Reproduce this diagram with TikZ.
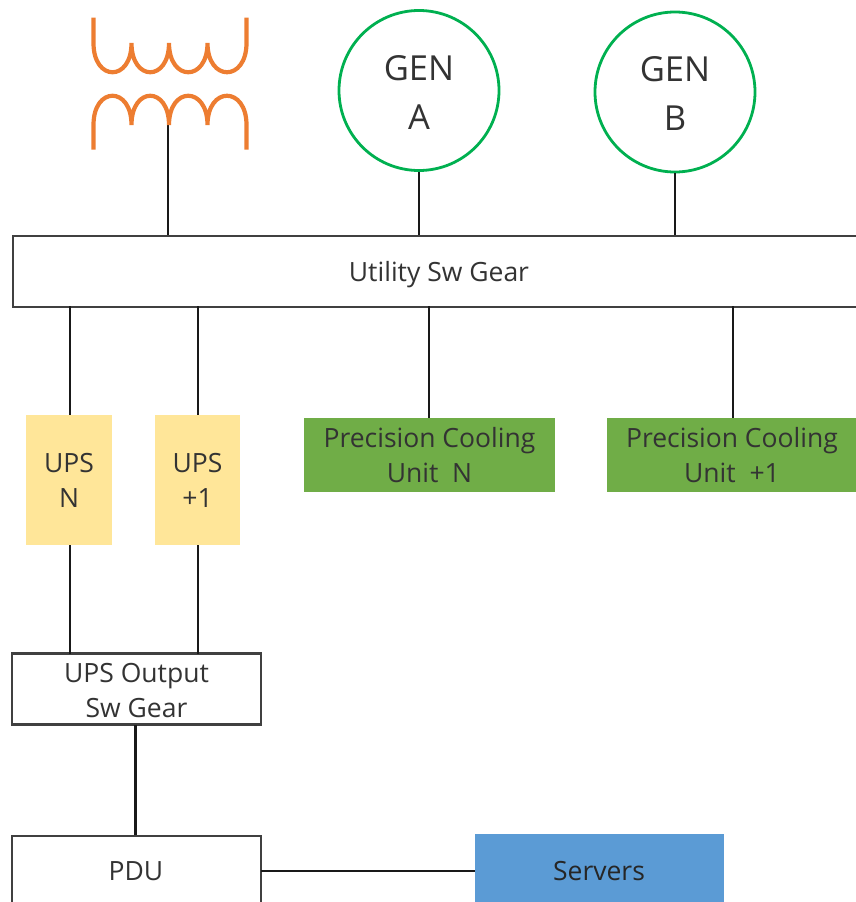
\documentclass[tikz,border=0pt]{standalone}
\usepackage{fontspec}
\setmainfont{Open Sans}
\newcommand\lowered[2]{\raisebox{-#1pt}[0pt][0pt]{\begin{tabular}{@{}c@{}}#2\end{tabular}}}
\begin{document}
\begin{tikzpicture}[x=1pt,y=-1pt,
 wire/.style={line width=2.9pt,color=black!90},
 coil/.style={line width=4.2pt,color=orangeC},
 gen/.style={circle,draw=genC,line width=2.8pt,minimum size=160pt,inner sep=0pt,align=center,text=textC,font=\fontsize{34.5}{49}\selectfont},
 swbox/.style={draw=black!75,line width=2.2pt,fill=white,text=textC,align=center,font=\fontsize{26.5}{35}\selectfont,inner sep=0pt},
 fillbox/.style={inner sep=0pt,align=center,text=textC,font=\fontsize{26.5}{35}\selectfont},
 lab/.style={text=textC,font=\fontsize{26.5}{30}\selectfont,inner sep=0pt}]
\definecolor{orangeC}{HTML}{ED7D31}
\definecolor{genC}{HTML}{00B050}
\definecolor{textC}{HTML}{333333}
\definecolor{upsC}{HTML}{FFE699}
\definecolor{greenC}{HTML}{70AD47}
\definecolor{blueC}{HTML}{5B9BD5}
\useasboundingbox (0,0) rectangle (856,902);
\clip (0,0) rectangle (856,902);
\coordinate (tap) at (168,125);
\node[gen] (genA) at (419,90.5) {\lowered{10.6}{GEN\\A}};
\node[gen] (genB) at (675,92) {\lowered{10.6}{GEN\\B}};
\node[swbox,minimum width=860pt,minimum height=71pt,anchor=north west] (usg) at (12,235) {};
\node[lab] (usgl) at (439,274.5) {Utility Sw Gear};
\node[fillbox,fill=upsC,minimum width=86pt,minimum height=130pt] (upsN) at (69,480) {\lowered{9.6}{UPS\\N}};
\node[fillbox,fill=upsC,minimum width=85pt,minimum height=130pt] (upsP) at (197.5,480) {\lowered{9.6}{UPS\\+1}};
\node[fillbox,fill=greenC,minimum width=251pt,minimum height=74pt] (pcN) at (429.5,454.5) {\lowered{9.6}{Precision Cooling\\Unit~~N}};
\node[fillbox,fill=greenC,minimum width=250pt,minimum height=74pt] (pcP) at (732,454.5) {\lowered{9.6}{Precision Cooling\\Unit~~+1}};
\node[swbox,minimum width=249pt,minimum height=71pt] (out) at (136.5,689) {\lowered{10.6}{UPS Output\\Sw Gear}};
\node[swbox,minimum width=249pt,minimum height=80pt,anchor=north] (pdu) at (136.5,835) {};
\node[lab] (pdul) at (136,871.5) {PDU};
\node[fillbox,fill=blueC,minimum width=249pt,minimum height=80pt,anchor=north] (srv) at (599.5,834) {};
\node[lab,text=black!85] (srvl) at (599,871.5) {Servers};
% wires
\draw[wire] (tap) -- (tap|-usg.north);
\draw[wire] (genA.south) -- (genA.south|-usg.north);
\draw[wire] (genB.south) -- (genB.south|-usg.north);
\draw[wire] (70,306) -- (70,415);
\draw[wire] (198,306) -- (198,415);
\draw[wire] (429,306) -- (429,418);
\draw[wire] (733,306) -- (733,418);
\draw[wire] (70,545) -- (70,654);
\draw[wire] (198,545) -- (198,654);
\draw[wire] (135.5,725) -- (135.5,835);
\draw[wire] (261,871) -- (475,871);
% transformer
\draw[coil] (93.5,17.5) -- (93.5,43) .. controls (93.5,82) and (131.5,82) .. (131.5,43)
 .. controls (131.5,82) and (169,82) .. (169,43) .. controls (169,82) and (207.5,82) .. (207.5,43) .. controls (207.5,82) and (246.5,82) .. (246.5,43) -- (246.5,17.5);
\draw[coil] (93.5,149.5) -- (93.5,125) .. controls (93.5,86) and (131.5,86) .. (131.5,125)
 .. controls (131.5,86) and (169,86) .. (169,125) .. controls (169,86) and (207.5,86) .. (207.5,125) .. controls (207.5,86) and (246.5,86) .. (246.5,125) -- (246.5,149.5);
\end{tikzpicture}
\end{document}
